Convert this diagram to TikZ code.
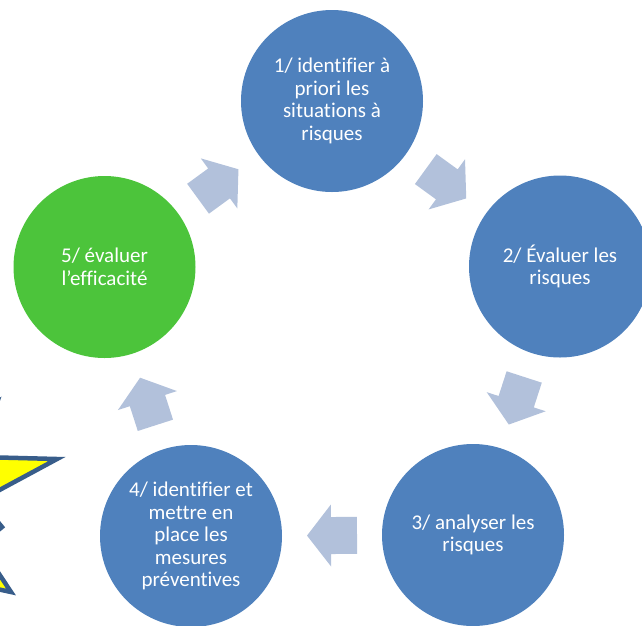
\documentclass[tikz,border=0pt]{standalone}
\usepackage{fontspec}
\setmainfont{Carlito}[Ligatures=NoCommon]
\usetikzlibrary{calc}

\definecolor{stepblue}{RGB}{79,129,189}
\definecolor{stepgreen}{RGB}{76,196,59}
\definecolor{flowarrow}{RGB}{178,193,219}
\definecolor{staredge}{RGB}{56,93,138}
\definecolor{staryellow}{RGB}{255,255,0}

\tikzset{
  stage/.style={circle, fill=stepblue, minimum size=182pt, inner sep=0pt,
    text=white, align=center, font=\fontsize{21}{22.6}\selectfont},
  laststage/.style={stage, fill=stepgreen},
  % block arrow centred on its origin, pointing along +x
  blockarrow/.pic={
    \fill[flowarrow] (25pt,0pt) -- (1pt,31pt) -- (1pt,18.5pt) -- (-25pt,18.5pt)
      -- (-25pt,-18.5pt) -- (1pt,-18.5pt) -- (1pt,-31pt) -- cycle;
  }
}

% block arrow halfway between two stages, aligned with their centres
\newcommand\cyclearrow[2]{%
  \path let \p1=($(#2)-(#1)$), \n1={atan2(\y1,\x1)} in
    ($(#1)!0.5!(#2)$) pic[rotate=\n1] {blockarrow};}

\begin{document}
\begin{tikzpicture}[x=1pt, y=-1pt]
  \useasboundingbox (0,0) rectangle (642,625);
  \clip (0,0) rectangle (642,625);

  % star at the left edge
  \filldraw[fill=staryellow, draw=staredge, line width=4.5pt]
    (-3,403) -- (-20,457) -- (57,459) -- (-20,500.5) -- (2,527) -- (-20,545)
    -- (11,592) -- (-40,581) -- (-100,520) -- (-60,450) -- cycle;

  % the five stages of the cycle
  \node[stage] (c1) at (332,101) {1/ identifier à\\priori les\\situations à\\risques};
  \node[stage] (c2) at (560,266.5) {2/ Évaluer les\\risques};
  \node[stage] (c3) at (473,535) {3/ analyser les\\risques};
  \node[stage] (c4) at (191,536) {4/ identifier et\\mettre en\\place les\\mesures\\préventives};
  \node[laststage] (c5) at (104.5,267) {5/ évaluer\\l’efficacité};

  % arrows between consecutive stages
  \cyclearrow{c1}{c2}
  \cyclearrow{c2}{c3}
  \cyclearrow{c3}{c4}
  \cyclearrow{c4}{c5}
  \cyclearrow{c5}{c1}
\end{tikzpicture}
\end{document}
